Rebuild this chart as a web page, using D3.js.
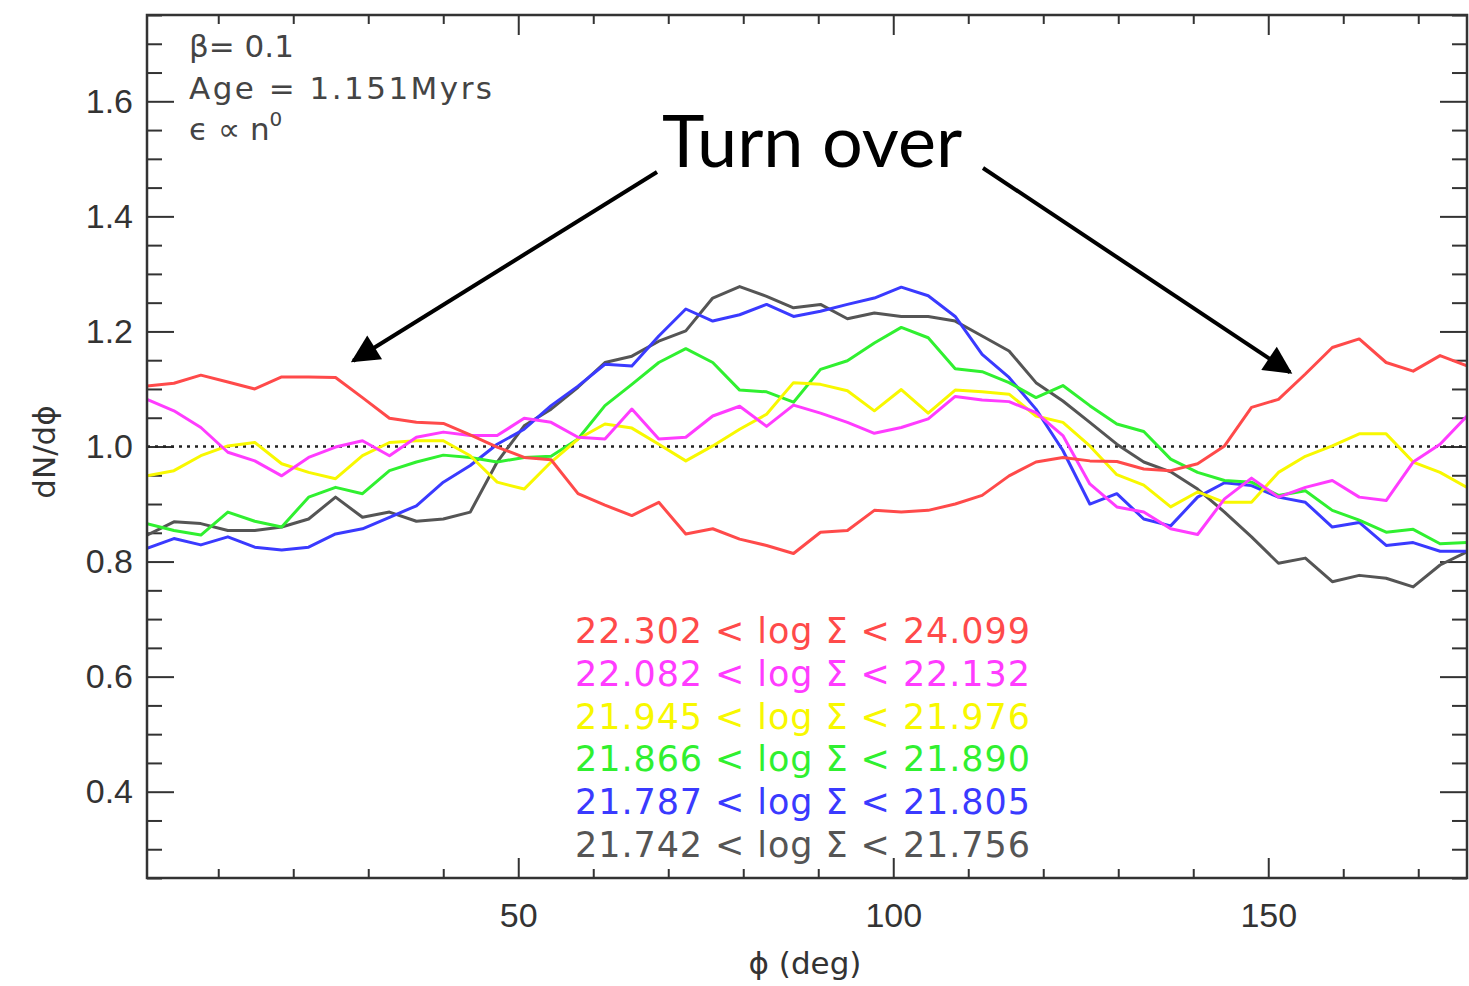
<!DOCTYPE html>
<html>
<head>
<meta charset="utf-8">
<script src="https://cdn.jsdelivr.net/npm/d3@7"></script>
<style>
  body { margin: 0; background: #fff; }
</style>
</head>
<body>
<div id="container"></div>
<script>
let w = 1469;
let h = 986;

// phi bin centres (deg)
const phi = [0.5, 4.09, 7.68, 11.28, 14.87, 18.46, 22.05, 25.64, 29.23, 32.83,
  36.42, 40.01, 43.60, 47.19, 50.79, 54.38, 57.97, 61.56, 65.15, 68.74,
  72.34, 75.93, 79.52, 83.11, 86.70, 90.30, 93.89, 97.48, 101.07, 104.66,
  108.26, 111.85, 115.44, 119.03, 122.62, 126.21, 129.81, 133.40, 136.99, 140.58,
  144.17, 147.77, 151.36, 154.95, 158.54, 162.13, 165.72, 169.32, 172.91, 176.5];

const redBin = [1.105, 1.110, 1.124, 1.112, 1.100, 1.121, 1.121, 1.120, 1.085, 1.049,
  1.042, 1.040, 1.020, 0.999, 0.981, 0.977, 0.918, 0.898, 0.880, 0.903,
  0.848, 0.857, 0.839, 0.828, 0.814, 0.851, 0.854, 0.889, 0.886, 0.889,
  0.900, 0.915, 0.949, 0.973, 0.981, 0.975, 0.974, 0.961, 0.958, 0.970,
  1.001, 1.068, 1.082, 1.126, 1.172, 1.187, 1.146, 1.131, 1.158, 1.140];

const magentaBin = [1.082, 1.062, 1.033, 0.990, 0.975, 0.949, 0.981, 0.999, 1.010, 0.984,
  1.016, 1.025, 1.019, 1.019, 1.049, 1.042, 1.016, 1.013, 1.065, 1.013,
  1.016, 1.053, 1.070, 1.035, 1.072, 1.058, 1.042, 1.023, 1.033, 1.048,
  1.087, 1.081, 1.078, 1.059, 1.019, 0.935, 0.895, 0.886, 0.857, 0.847,
  0.909, 0.945, 0.912, 0.929, 0.941, 0.912, 0.906, 0.973, 1.004, 1.053];

const yellowBin = [0.949, 0.958, 0.984, 1.001, 1.007, 0.970, 0.955, 0.944, 0.984, 1.007,
  1.010, 1.010, 0.984, 0.938, 0.926, 0.973, 1.013, 1.039, 1.032, 1.004,
  0.975, 1.001, 1.030, 1.056, 1.111, 1.108, 1.097, 1.062, 1.099, 1.058,
  1.098, 1.095, 1.091, 1.053, 1.042, 1.001, 0.951, 0.933, 0.895, 0.921,
  0.903, 0.903, 0.955, 0.983, 1.001, 1.022, 1.022, 0.973, 0.955, 0.929];

const greenBin = [0.866, 0.854, 0.846, 0.886, 0.870, 0.860, 0.912, 0.929, 0.918, 0.958,
  0.973, 0.985, 0.981, 0.973, 0.981, 0.983, 1.013, 1.071, 1.108, 1.146,
  1.170, 1.146, 1.098, 1.095, 1.077, 1.134, 1.149, 1.180, 1.207, 1.189,
  1.135, 1.130, 1.111, 1.085, 1.106, 1.071, 1.039, 1.026, 0.978, 0.955,
  0.941, 0.938, 0.915, 0.923, 0.889, 0.872, 0.851, 0.856, 0.831, 0.833];

const blueBin = [0.823, 0.840, 0.829, 0.843, 0.825, 0.820, 0.825, 0.848, 0.857, 0.877,
  0.897, 0.938, 0.967, 1.004, 1.030, 1.071, 1.105, 1.143, 1.140, 1.192,
  1.239, 1.218, 1.229, 1.247, 1.226, 1.235, 1.247, 1.258, 1.277, 1.262,
  1.226, 1.160, 1.120, 1.065, 0.993, 0.900, 0.918, 0.874, 0.862, 0.912,
  0.937, 0.932, 0.912, 0.903, 0.860, 0.868, 0.828, 0.833, 0.818, 0.818];

const grayBin = [0.846, 0.869, 0.866, 0.854, 0.854, 0.860, 0.874, 0.912, 0.877, 0.886,
  0.870, 0.874, 0.886, 0.973, 1.036, 1.065, 1.103, 1.146, 1.157, 1.183,
  1.201, 1.258, 1.278, 1.261, 1.241, 1.247, 1.222, 1.232, 1.226, 1.226,
  1.218, 1.192, 1.166, 1.111, 1.079, 1.042, 1.004, 0.973, 0.956, 0.926,
  0.886, 0.843, 0.797, 0.806, 0.765, 0.776, 0.771, 0.756, 0.794, 0.817];

const binLabels = ['22.302 < log Σ < 24.099', '22.082 < log Σ < 22.132', '21.945 < log Σ < 21.976',
  '21.866 < log Σ < 21.890', '21.787 < log Σ < 21.805', '21.742 < log Σ < 21.756'];
const binColors = ['#ff4a4a', '#ff3cff', '#f8f800', '#30f030', '#3a3aff', '#555555'];
const binValues = [redBin, magentaBin, yellowBin, greenBin, blueBin, grayBin];

const xMajor = [50, 100, 150];
const yMajor = [0.4, 0.6, 0.8, 1.0, 1.2, 1.4, 1.6];

let pLeft = 147, pRight = 1467, pTop = 15, pBottom = 878;

let x = d3.scaleLinear().domain([0.5, 176.5]).range([pLeft, pRight]);
let y = d3.scaleLinear().domain([0.25, 1.75]).range([pBottom, pTop]);

let viz = d3.select('#container').append('svg')
    .attr('width', w)
    .attr('height', h)
    .style('font-family', 'DejaVu Sans, sans-serif');

let defs = viz.append('defs');
defs.append('clipPath').attr('id', 'clip')
  .append('rect')
    .attr('x', pLeft).attr('y', pTop)
    .attr('width', pRight - pLeft).attr('height', pBottom - pTop);

// minor ticks
let xMinor = d3.range(10, 177, 10).filter(d => d % 50 != 0);
let yMinor = d3.range(0.25, 1.751, 0.05).filter(d => Math.abs(d * 5 - Math.round(d * 5)) > 0.01);

function styleAxis(g) {
  g.select('.domain').remove();
  g.selectAll('line').attr('stroke', '#333').attr('stroke-width', 2);
  g.selectAll('text').attr('fill', '#333').attr('font-size', '34px');
}

viz.append('g').attr('transform', `translate(0,${pBottom})`)
    .call(d3.axisBottom(x).tickValues(xMajor).tickSize(-20).tickPadding(25).tickFormat(d3.format('d')))
    .call(styleAxis);
viz.append('g').attr('transform', `translate(0,${pBottom})`)
    .call(d3.axisBottom(x).tickValues(xMinor).tickSize(-9).tickFormat(''))
    .call(styleAxis);
viz.append('g').attr('transform', `translate(0,${pTop})`)
    .call(d3.axisTop(x).tickValues(xMajor).tickSize(-20).tickFormat(''))
    .call(styleAxis);
viz.append('g').attr('transform', `translate(0,${pTop})`)
    .call(d3.axisTop(x).tickValues(xMinor).tickSize(-9).tickFormat(''))
    .call(styleAxis);

viz.append('g').attr('transform', `translate(${pLeft},0)`)
    .call(d3.axisLeft(y).tickValues(yMajor).tickSize(-27).tickPadding(14).tickFormat(d3.format('.1f')))
    .call(styleAxis);
viz.append('g').attr('transform', `translate(${pLeft},0)`)
    .call(d3.axisLeft(y).tickValues(yMinor).tickSize(-15).tickFormat(''))
    .call(styleAxis);
viz.append('g').attr('transform', `translate(${pRight},0)`)
    .call(d3.axisRight(y).tickValues(yMajor).tickSize(-27).tickFormat(''))
    .call(styleAxis);
viz.append('g').attr('transform', `translate(${pRight},0)`)
    .call(d3.axisRight(y).tickValues(yMinor).tickSize(-15).tickFormat(''))
    .call(styleAxis);

// reference line at 1
viz.append('line')
    .attr('x1', pLeft).attr('x2', pRight)
    .attr('y1', y(1)).attr('y2', y(1))
    .attr('stroke', '#222')
    .attr('stroke-width', 2.5)
    .attr('stroke-dasharray', '3,5');

let line = d3.line()
    .x((d, i) => x(phi[i]))
    .y(d => y(d));

let lines = viz.append('g').attr('clip-path', 'url(#clip)');
[5, 4, 3, 2, 1, 0].forEach(k => {
  lines.append('path')
      .attr('d', line(binValues[k]))
      .attr('fill', 'none')
      .attr('stroke', binColors[k])
      .attr('stroke-width', 3)
      .attr('stroke-linejoin', 'round');
});

// frame
viz.append('rect')
    .attr('x', pLeft).attr('y', pTop)
    .attr('width', pRight - pLeft).attr('height', pBottom - pTop)
    .attr('fill', 'none')
    .attr('stroke', '#333')
    .attr('stroke-width', 2.5);

// legend
binLabels.forEach((t, k) => {
  viz.append('text')
      .text(t)
      .attr('x', 575)
      .attr('y', 643 + k * 42.8)
      .attr('fill', binColors[k])
      .attr('font-size', '35px')
      .attr('textLength', 455)
      .attr('lengthAdjust', 'spacing');
});

// info text
let info = viz.append('g').attr('fill', '#444').attr('font-size', '31px');
info.append('text').text('β= 0.1').attr('x', 189).attr('y', 57);
info.append('text').text('Age = 1.151Myrs').attr('x', 189).attr('y', 99)
    .attr('textLength', 303).attr('lengthAdjust', 'spacing');
let eps = info.append('text').attr('x', 189).attr('y', 140);
eps.append('tspan').text('ϵ ∝ n');
eps.append('tspan').text('0').attr('font-size', '20px').attr('dy', -14);

// axis titles
viz.append('text')
    .text('ϕ (deg)')
    .attr('x', 805).attr('y', 974)
    .attr('text-anchor', 'middle')
    .attr('fill', '#333')
    .attr('font-size', '31px');

viz.append('text')
    .text('dN/dϕ')
    .attr('transform', 'translate(55,452) rotate(-90)')
    .attr('text-anchor', 'middle')
    .attr('fill', '#333')
    .attr('font-size', '31px');

// annotation
defs.append('marker')
    .attr('id', 'head')
    .attr('viewBox', '0 0 10 10')
    .attr('refX', 9).attr('refY', 5)
    .attr('markerWidth', 8).attr('markerHeight', 7)
    .attr('markerUnits', 'strokeWidth')
    .attr('orient', 'auto')
  .append('path')
    .attr('d', 'M0,0 L10,5 L0,10 Z')
    .attr('fill', '#000');

viz.append('text')
    .text('Turn over')
    .attr('x', 662).attr('y', 167)
    .attr('font-family', 'Lato, sans-serif')
    .attr('font-size', '72px')
    .attr('fill', '#000');

viz.append('line')
    .attr('x1', 657).attr('y1', 172)
    .attr('x2', x(28)).attr('y2', y(1.149))
    .attr('stroke', '#000').attr('stroke-width', 4)
    .attr('marker-end', 'url(#head)');

viz.append('line')
    .attr('x1', 983).attr('y1', 168)
    .attr('x2', x(152.9)).attr('y2', y(1.129))
    .attr('stroke', '#000').attr('stroke-width', 4)
    .attr('marker-end', 'url(#head)');
</script>
</body>
</html>
